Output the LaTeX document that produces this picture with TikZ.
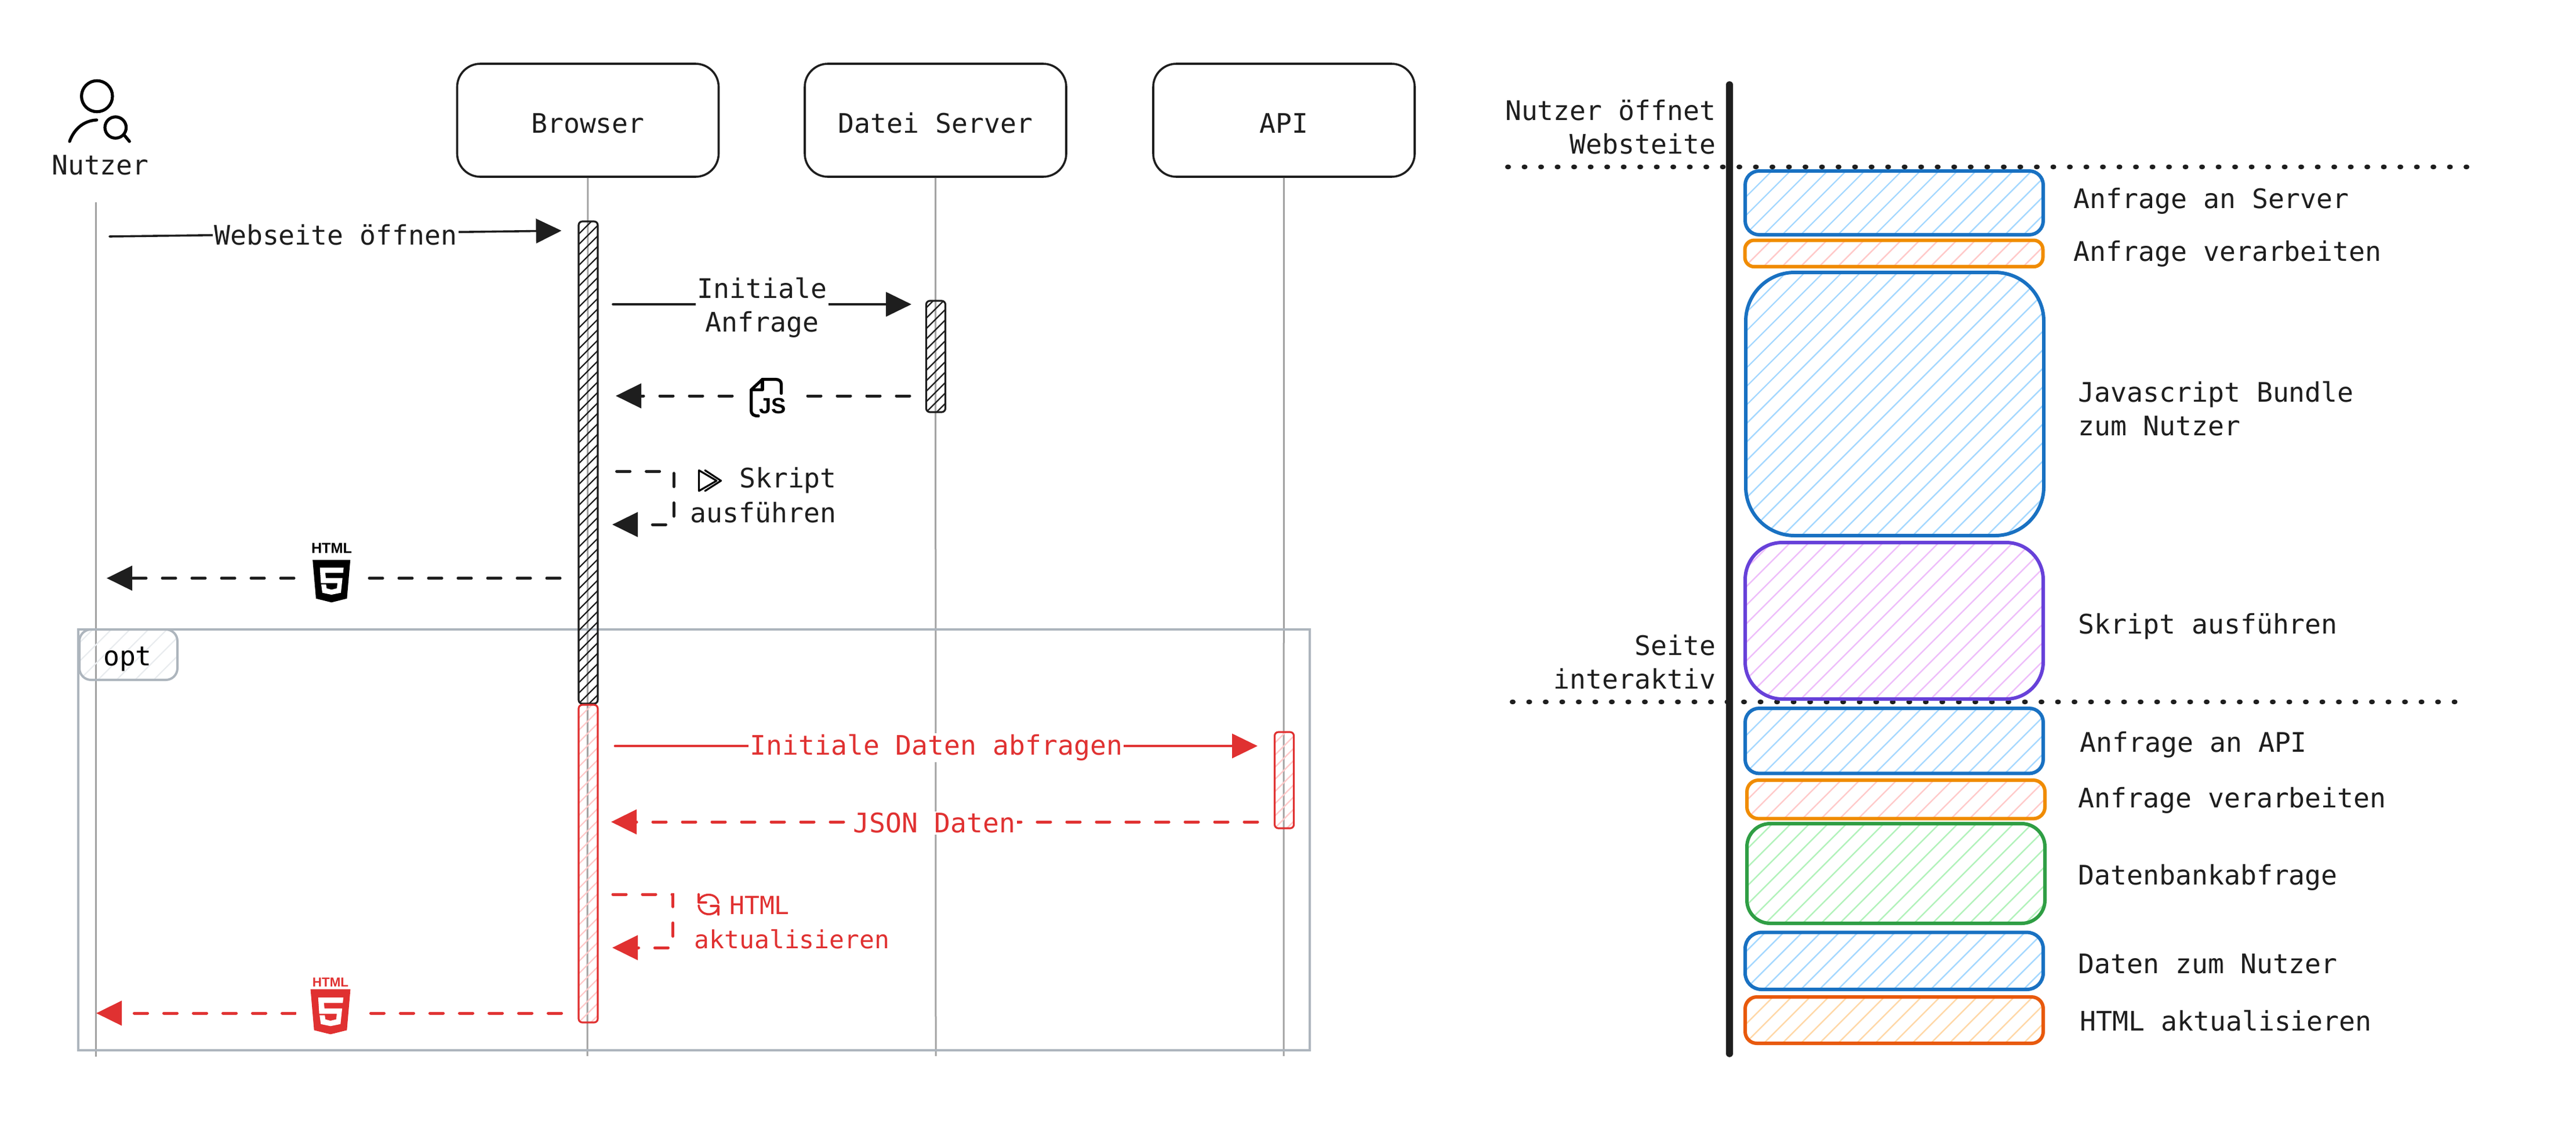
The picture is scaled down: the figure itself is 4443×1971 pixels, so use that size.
\documentclass[tikz,border=0pt]{standalone}
\usepackage{fontspec}
\setmainfont{DejaVu Sans Mono}
\newfontfamily\iconfont{Liberation Sans}[BoldFont={Liberation Sans Bold}]
\usetikzlibrary{positioning,calc,arrows.meta}
\definecolor{ink}{HTML}{1E1E1E}
\definecolor{alert}{HTML}{E03131}
\definecolor{lifegray}{HTML}{A3A3A3}
\definecolor{framegray}{HTML}{ADB5BD}
\definecolor{framehatch}{HTML}{E9ECEF}
\definecolor{netblue}{HTML}{1971C2}
\definecolor{nethatch}{HTML}{A5D8FF}
\definecolor{cpuorange}{HTML}{F08C00}
\definecolor{cpuhatch}{HTML}{FFC9C9}
\definecolor{jspurple}{HTML}{6741D9}
\definecolor{jshatch}{HTML}{EEBEFA}
\definecolor{dbgreen}{HTML}{2F9E44}
\definecolor{dbhatch}{HTML}{B2F2BB}
\definecolor{domorange}{HTML}{E8590C}
\definecolor{domhatch}{HTML}{FFD8A8}
\tikzset{
  txt/.style={font=\fontsize{11.6}{14.5}\selectfont,text=ink,inner sep=0pt},
  msglabel/.style={txt,fill=white,align=center,inner sep=.6pt},
  actor/.style={draw=ink,line width=.9pt,rounded corners=10pt,txt,text height=11.2pt,text depth=0pt,
    minimum width=112.75pt,minimum height=48.75pt},
  lifeline/.style={draw=lifegray,line width=.75pt},
  % border colour, line colour, border width, line step (in px)
  hatchbox/.style n args={4}{draw=#1,line width=#3,inner sep=0pt,outer sep=0pt,
    path picture={\foreach \d [evaluate=\d as \off using \d*#4] in {-60,...,40}
      \draw[#2,line width=.6pt] (path picture bounding box.south west) ++(\off,0) -- ++(2000,-2000);}},
  active/.style={hatchbox={ink}{ink}{.8pt}{18},rounded corners=1.6pt,minimum width=8.25pt},
  activered/.style={hatchbox={alert}{cpuhatch}{.8pt}{21},rounded corners=1.6pt,minimum width=8.25pt},
  phase/.style 2 args={hatchbox={#1}{#2}{1.5pt}{32},minimum width=128.5pt},
  msg/.style={line width=.9pt,line cap=round,
    -{Triangle[length=11pt,width=10.5pt]}},
  reply/.style={msg,line width=1.25pt,dash pattern=on 5.75pt off 7pt},
  gap/.style={fill=white,inner sep=0pt},
  icon/.style={line width=1.3pt,line cap=round,line join=round},
  cut/.style={draw=ink,line width=2pt,line cap=round,dash pattern=on .5pt off 6.625pt},
}
\newcommand*{\shield}[4]{%
\begin{scope}[shift={(#1,#2)},scale=#3]
\fill[#4] (-32.5,0) -- (32.5,0) -- (26.7,66.7) -- (0,73.3) -- (-26.7,66.7) -- cycle;
\fill[white] (-20,13.3) -- (21,13.3) -- (20,22.3) -- (-10.7,22.3) -- (-9.7,31.3) -- (19,31.3)
  -- (16.3,56.7) -- (0,60) -- (-15.7,56.7) -- (-17.7,42.3) -- (-9.3,42.3) -- (-8.3,49)
  -- (0,51.3) -- (9.3,49) -- (10.3,40) -- (-18.3,40) -- cycle;
\end{scope}}

\begin{document}
\begin{tikzpicture}[x=.25pt,y=-.25pt]
\useasboundingbox (0,0) rectangle (4443,1971);
% Participants
\node[txt] (nutzer) at (173,285) {Nutzer};
\node[actor] (browser) at (1014,207.5) {Browser};
\node[actor] (server) at (1613.5,207.5) {Datei Server};
\node[actor] (api) at (2214.5,207.5) {API};
% User icon
\draw[icon,black] (167.3,166) circle (26.7);
\draw[icon,black] (120,244) .. controls (128,222) and (145,208) .. (166.7,207);
\draw[icon,black] (199.3,220) circle (18.3);
\draw[icon,black] (215,234) -- (223.3,244);
% Lifelines
\coordinate (nutzertop) at (165,349);
\coordinate (nutzerend) at (165,1823);
\coordinate (browserend) at (1013,1822);
\coordinate (serverend) at (1614,1822);
\coordinate (apiend) at (2214,1822);
\draw[lifeline] (nutzertop) -- (nutzerend);
\draw[lifeline] (browser) -- (browserend);
\draw[lifeline] (server) -- (serverend);
\draw[lifeline] (api) -- (apiend);
% Optional frame
\node[draw=framegray,line width=1pt,minimum width=531pt,minimum height=181.6pt,inner sep=0pt] (frame) at (1197,1448.75) {};
\node[hatchbox={framegray}{framehatch}{1pt}{32},rounded corners=5pt,minimum width=42.25pt,minimum height=21.75pt] (optbox) at (221.5,1129.5) {};
\node[txt,text=black] (opt) at (220,1137) {opt};
% Activations
\node[active,minimum height=208pt] (browseract) at (1014.5,798) {};
\node[activered,minimum height=137pt] (browserred) at (1014.5,1490) {};
\node[active,minimum height=48pt] (serveract) at (1614,615) {};
\node[activered,minimum height=41.5pt] (apiact) at (2215,1346) {};
% Messages in black
\coordinate (open1) at (189,408);
\coordinate (open2) at (968.5,398);
\draw[msg,ink] (open1) -- node[msglabel,pos=.5,yshift=-.5pt] (openlbl) {Webseite öffnen} (open2);
\coordinate (req1) at (1057,525);
\coordinate (req2) at (1572,525);
\draw[msg,ink] (req1) -- node[msglabel,pos=.5,yshift=-1.4pt] (reqlbl) {Initiale\\Anfrage} (req2);
\coordinate (js1) at (1569,683);
\coordinate (js2) at (1062,683);
\draw[reply,ink] (js1) -- node[gap,pos=.48,minimum width=23pt,minimum height=16pt] (jsgap) {} (js2);
\draw[icon,black] (1308,717.6) .. controls (1300,717.6) and (1295.7,715) .. (1295.7,708) -- (1295.7,672.5) -- (1315,654.5) -- (1338,654.5)
  .. controls (1344,654.5) and (1347.5,658) .. (1347.5,663) -- (1347.5,678.6);
\draw[icon,black] (1315,654.5) -- (1315,672.5) -- (1295.7,672.5);
\node[black,inner sep=0pt,font=\iconfont\bfseries\fontsize{9.5}{10}\selectfont] (jslbl) at (1333,700) {JS};
\coordinate (run1) at (1063.6,813);
\coordinate (run2) at (1162,813);
\coordinate (run3) at (1162,905);
\coordinate (run4) at (1056,905);
\draw[reply,ink] (run1) -- (run2) -- (run3) -- (run4);
\node[txt] (runlbl1) at (1359,829) {Skript};
\node[txt] (runlbl2) at (1316.5,884) {ausführen};
\draw[black,line width=.8pt,line join=round,line cap=round] (1205.5,811.4) -- (1236,829.4) -- (1205.5,847) -- cycle;
\draw[black,line width=.8pt,line join=round,line cap=round] (1216,811.4) -- (1243.5,829.4) -- (1216,847);
\coordinate (page1) at (966,997.5);
\coordinate (page2) at (184,997.5);
\draw[reply,ink] (page1) -- node[gap,pos=.503,minimum width=26pt,minimum height=20pt] (pagegap) {} (page2);
\shield{571.7}{966}{1}{black}
\node[black,inner sep=0pt,font=\iconfont\bfseries\fontsize{6.3}{7}\selectfont] (pagelbl) at (572,946) {HTML};
% Messages in red
\coordinate (data1) at (1060.5,1287);
\coordinate (data2) at (2169,1287);
\draw[msg,alert] (data1) -- node[msglabel,text=alert,pos=.5,yshift=-.7pt] (datalbl) {Initiale Daten abfragen} (data2);
\coordinate (json1) at (2169,1418);
\coordinate (json2) at (1054,1418);
\draw[reply,alert] (json1) -- node[msglabel,text=alert,pos=.5,yshift=-.5pt] (jsonlbl) {JSON Daten} (json2);
\coordinate (upd1) at (1057,1543);
\coordinate (upd2) at (1160.7,1543);
\coordinate (upd3) at (1160.7,1635);
\coordinate (upd4) at (1056,1635);
\draw[reply,alert] (upd1) -- (upd2) -- (upd3) -- (upd4);
\node[txt,text=alert,font=\fontsize{10.75}{14}\selectfont] (updlbl1) at (1310,1562) {HTML};
\node[txt,text=alert,font=\fontsize{10.75}{14}\selectfont] (updlbl2) at (1366,1620) {aktualisieren};
\draw[icon,alert,line width=.9pt] (1204.7,1542.7) -- (1204.7,1557) -- (1218,1557);
\draw[icon,alert,line width=.9pt] (1205,1557) .. controls (1207,1540) and (1237,1538) .. (1239,1558);
\draw[icon,alert,line width=.9pt] (1205,1562) .. controls (1207,1582) and (1237,1582) .. (1239,1564);
\draw[icon,alert,line width=.9pt] (1239,1578) -- (1239,1563) -- (1226,1563);
\coordinate (page3) at (968.5,1748);
\coordinate (page4) at (166,1748);
\draw[reply,alert] (page3) -- node[gap,pos=.5,minimum width=28pt,minimum height=20pt] (pagegap2) {} (page4);
\shield{570}{1706.7}{1.06}{alert}
\node[text=alert,inner sep=0pt,font=\iconfont\bfseries\fontsize{5.6}{7}\selectfont] (pagelbl2) at (570,1694.5) {HTML};
% Time axis
\coordinate (axistop) at (2983,146);
\coordinate (axisend) at (2983,1818);
\draw[ink,line width=2.9pt,line cap=round] (axistop) -- (axisend);
\coordinate (cut1) at (2600,288);
\coordinate (cut2) at (4264,288);
\coordinate (cut3) at (2608,1211);
\coordinate (cut4) at (4242,1211);
\draw[cut] (cut1) -- (cut2);
\draw[cut] (cut3) -- (cut4);
\node[txt,align=right,anchor=east] (openedlbl) at (2960,219) {Nutzer öffnet\\Websteite};
\node[txt,align=right,anchor=east] (interlbl) at (2960,1142) {Seite\\interaktiv};
% Phases
\node[phase={netblue}{nethatch},rounded corners=6pt,minimum height=27.5pt] (p1) at (3267,350) {};
\node[phase={cpuorange}{cpuhatch},rounded corners=4pt,minimum height=11.4pt] (p2) at (3266.5,437.3) {};
\node[phase={netblue}{nethatch},rounded corners=21pt,minimum height=113.5pt] (p3) at (3268,697) {};
\node[phase={jspurple}{jshatch},rounded corners=16pt,minimum height=67.5pt] (p4) at (3267,1071) {};
\node[phase={netblue}{nethatch},rounded corners=6pt,minimum height=28.1pt] (p5) at (3267,1278.2) {};
\node[phase={cpuorange}{cpuhatch},rounded corners=5pt,minimum height=16.6pt] (p6) at (3270,1379.2) {};
\node[phase={dbgreen}{dbhatch},rounded corners=10pt,minimum height=43pt] (p7) at (3270,1507) {};
\node[phase={netblue}{nethatch},rounded corners=7pt,minimum height=24.6pt] (p8) at (3267,1657.8) {};
\node[phase={domorange}{domhatch},rounded corners=5pt,minimum height=20pt] (p9) at (3267,1760) {};
% Phase labels
\node[txt,anchor=mid west] (l1) at (3576,349) {Anfrage an Server};
\node[txt,anchor=mid west] (l2) at (3576,439.5) {Anfrage verarbeiten};
\node[txt,anchor=west,align=left] (l3) at (3584,705) {Javascript Bundle\\zum Nutzer};
\node[txt,anchor=mid west] (l4) at (3584,1083) {Skript ausführen};
\node[txt,anchor=mid west] (l5) at (3587,1287) {Anfrage an API};
\node[txt,anchor=mid west] (l6) at (3584,1383) {Anfrage verarbeiten};
\node[txt,anchor=mid west] (l7) at (3584,1516) {Datenbankabfrage};
\node[txt,anchor=mid west] (l8) at (3584,1669) {Daten zum Nutzer};
\node[txt,anchor=mid west] (l9) at (3587,1768) {HTML aktualisieren};
\end{tikzpicture}
\end{document}
